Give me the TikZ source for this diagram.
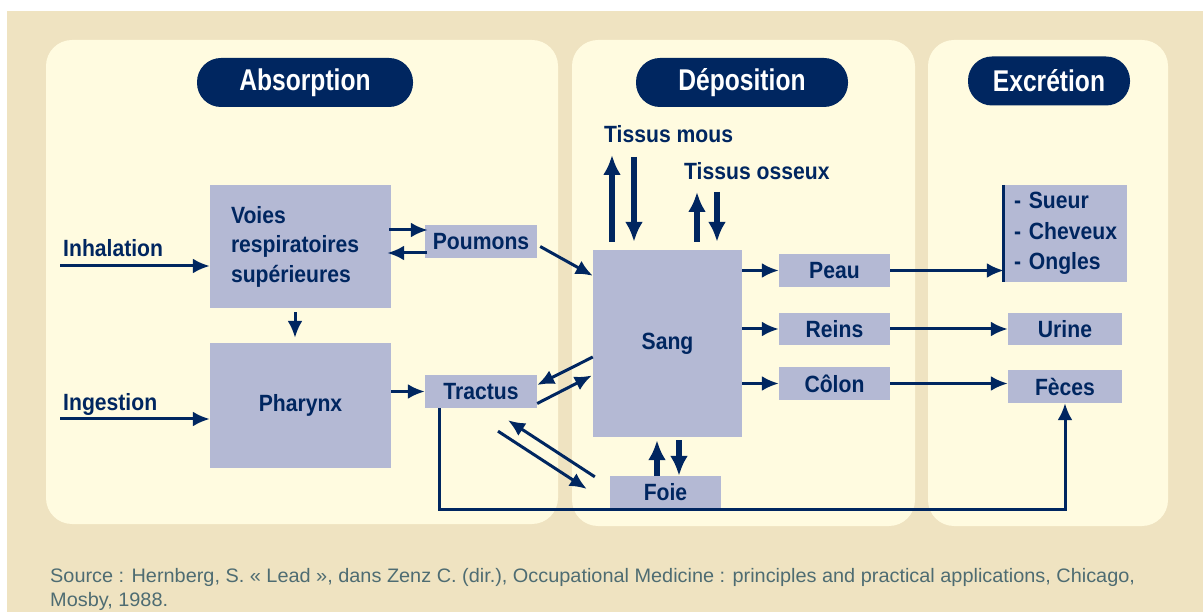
\documentclass[tikz,border=0pt]{standalone}
\usepackage{fontspec}
\setmainfont{Liberation Sans}
\newfontfamily\grasfont{Liberation Sans}[FakeStretch=0.9]
\newfontfamily\titrefont{Liberation Sans}[FakeStretch=0.82]
\newfontfamily\sourcefont{Liberation Sans}[FakeStretch=1.02]
\usetikzlibrary{arrows.meta,calc,positioning}

\definecolor{fond}{RGB}{239,227,193}
\definecolor{creme}{RGB}{255,251,224}
\definecolor{grisbleu}{RGB}{180,185,212}
\definecolor{marine}{RGB}{0,38,96}
\definecolor{gristeal}{RGB}{78,108,114}

\tikzset{
  boite/.style={fill=grisbleu, text=marine, inner sep=0pt,
    font=\grasfont\bfseries\fontsize{23.5}{29.5}\selectfont},
  titre/.style={fill=marine, text=white, rounded corners=24pt, inner sep=0pt,
    minimum height=49pt, font=\titrefont\bfseries\fontsize{30}{30}\selectfont},
  etiquette/.style={text=marine, inner sep=0pt,
    font=\grasfont\bfseries\fontsize{23.5}{29.5}\selectfont},
  fleche/.style={draw=marine, line width=3pt, -{Latex[length=17pt,width=15pt]}},
  grosse/.style={fleche, line width=5.5pt, -{Latex[length=20pt,width=18pt]}},
  panneau/.style={fill=creme, rounded corners=26pt},
  source/.style={text=gristeal, inner sep=0pt, font=\sourcefont\fontsize{19.5}{19.5}\selectfont},
}

\begin{document}
\begin{tikzpicture}[x=1pt, y=-1pt]

    \useasboundingbox (0,0) rectangle (1203,612);

    % Background and panels
    \fill[white] (0,0) rectangle (1203,612);
    \fill[fond] (7,11) rectangle (1203,612);
    \fill[panneau] (46,40) rectangle (558,524);
    \fill[panneau] (572,40) rectangle (915,526);
    \fill[panneau] (928,40) rectangle (1168,526);

    % Titles
    \node[titre, minimum width=216pt] (absorption) at (305,82.5) {Absorption};
    \node[titre, minimum width=212pt] (deposition) at (742,82.5) {Déposition};
    \node[titre, minimum width=162pt] (excretion) at (1049,81) {Excrétion};

    % Boxes
    \node[boite, minimum width=181pt, minimum height=123pt, text width=139pt, align=left] (voies) at (300.5,246.5) {Voies\\respiratoires\\supérieures};
    \node[boite, minimum width=181pt, minimum height=125pt] (pharynx) at (300.5,405.5) {Pharynx};
    \node[boite, minimum width=112pt, minimum height=33pt] (poumons) at (481,241.5) {Poumons};
    \node[boite, minimum width=112pt, minimum height=33pt] (tractus) at (481,391.5) {Tractus};
    \node[boite, minimum width=149pt, minimum height=187pt] (sang) at (667.5,343.5) {Sang};
    \node[boite, minimum width=111pt, minimum height=32pt] (foie) at (665.5,492) {Foie};
    \node[boite, minimum width=111pt, minimum height=33pt] (peau) at (834.5,270.5) {Peau};
    \node[boite, minimum width=111pt, minimum height=32pt] (reins) at (834.5,329) {Reins};
    \node[boite, minimum width=111pt, minimum height=33pt] (colon) at (834.5,383.5) {Côlon};
    \node[boite, minimum width=123pt, minimum height=97pt, text width=103pt, align=left, font=\grasfont\bfseries\fontsize{23.5}{30.5}\selectfont] (phaneres) at (1065.5,233.5) {\mbox{- Sueur}\\\mbox{- Cheveux}\\\mbox{- Ongles}};
    \node[boite, minimum width=114pt, minimum height=32pt] (urine) at (1065,329) {Urine};
    \node[boite, minimum width=114pt, minimum height=33pt] (feces) at (1065,386.5) {Fèces};

    % Free labels
    \node[etiquette, anchor=base west] (inhalation) at (63,257) {Inhalation};
    \node[etiquette, anchor=base west] (ingestion) at (63,410) {Ingestion};
    \node[etiquette, anchor=base west] (mous) at (604,143) {Tissus mous};
    \node[etiquette, anchor=base west] (osseux) at (684,180) {Tissus osseux};

    % Absorption
    \draw[fleche] ($(inhalation.base west)+(-3,9)$) -- ($(inhalation.base west -| voies.west)+(0,9)$);
    \draw[fleche] ($(ingestion.base west)+(-3,9)$) -- ($(ingestion.base west -| pharynx.west)+(0,9)$);
    \draw[fleche] ($(voies.south)+(-5.5,4)$) -- ($(pharynx.north)+(-5.5,-5)$);
    \draw[fleche] ($(voies.east |- poumons.west)+(-2,-11.5)$) -- ($(poumons.west)+(3,-11.5)$);
    \draw[fleche] ($(poumons.west)+(2,11.5)$) -- ($(voies.east |- poumons.west)+(-4,11.5)$);
    \draw[fleche] (pharynx.east |- tractus.west) -- (tractus.west);

    % Deposition
    \draw[fleche] ($(poumons.east)+(3,5)$) -- ($(sang.north west)+(0,26)$);
    \draw[fleche] ($(sang.west)+(0,13.5)$) -- ($(tractus.east)+(0,-6.5)$);
    \draw[fleche] ($(tractus.east)+(0,12)$) -- ($(sang.west)+(-1,32)$);
    \draw[fleche] ($(foie.north west)+(-15,1)$) -- ($(tractus.south)+(27,12)$);
    \draw[fleche] ($(tractus.south)+(17,23)$) -- ($(foie.west)+(-23,-3)$);
    \draw[grosse] ($(foie.north)+(-8.5,0)$) -- ($(foie.north |- sang.south)+(-8.5,3)$);
    \draw[grosse] ($(foie.north |- sang.south)+(13.5,3)$) -- ($(foie.north)+(13.5,0)$);
    \draw[grosse] ($(mous.base west |- sang.north)+(8,-8)$) -- ($(mous.base west)+(8,12)$);
    \draw[grosse] ($(mous.base west)+(30,14)$) -- ($(mous.base west |- sang.north)+(30,-8)$);
    \draw[grosse] ($(osseux.base west |- sang.north)+(13,-8)$) -- ($(osseux.base west)+(13,12)$);
    \draw[grosse] ($(osseux.base west)+(33,12)$) -- ($(osseux.base west |- sang.north)+(33,-8)$);
    \draw[fleche] (sang.east |- peau.west) -- (peau.west);
    \draw[fleche] (sang.east |- reins.west) -- (reins.west);
    \draw[fleche] (sang.east |- colon.west) -- (colon.west);

    % Excretion
    \draw[fleche] (peau.east) -- (peau.east -| phaneres.west);
    \draw[marine, line width=3pt] (phaneres.north west) -- (phaneres.south west);
    \draw[fleche] (reins.east) -- (urine.west);
    \draw[fleche] (colon.east) -- (colon.east -| feces.west);
    \draw[fleche] ($(tractus.south west)+(15,0)$) |- ($(feces.south |- foie.south)+(0,1)$) -- (feces.south);

    % Source
    \node[source, anchor=base west] (ref1) at (50,582) {Source : Hernberg, S. « Lead », dans Zenz C. (dir.), Occupational Medicine : principles and practical applications, Chicago,};
    \node[source, anchor=base west] (ref2) at (50,606) {Mosby, 1988.};

\end{tikzpicture}
\end{document}
